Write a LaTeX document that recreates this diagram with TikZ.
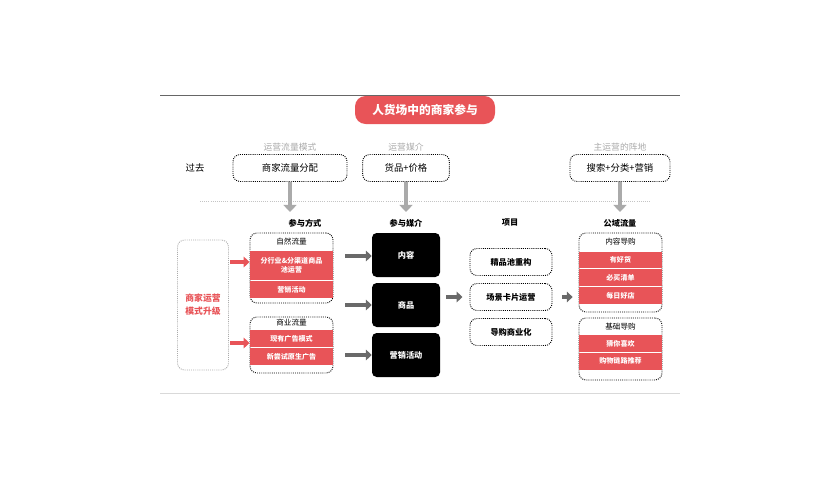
\documentclass[tikz,border=0pt]{standalone}
\usepackage{fontspec}
\setmainfont{Noto Sans CJK SC}
\usetikzlibrary{arrows.meta, positioning}
\definecolor{hotred}{RGB}{232,84,88}
\definecolor{softgray}{RGB}{170,170,170}
\definecolor{arrowgray}{RGB}{105,105,105}

\begin{document}
\begin{tikzpicture}[x=0.03cm, y=-0.03cm,
        dotbox/.style={rectangle, draw, densely dotted, thick, rounded corners=6pt, align=center, font=\fontsize{8}{9}\selectfont},
        group/.style={rectangle, draw, densely dotted, thick, rounded corners=6pt, inner sep=0pt},
        bar/.style={rectangle, fill=hotred, text=white, align=center, inner sep=0pt, minimum width=2.49cm, font=\fontsize{6}{7.5}\selectfont\bfseries},
        media/.style={rectangle, fill=black, text=white, rounded corners=4pt, minimum width=2.04cm, minimum height=1.32cm, font=\fontsize{7}{8}\selectfont\bfseries},
        head/.style={font=\fontsize{7}{8}\selectfont\bfseries},
        sub/.style={font=\fontsize{6.5}{8}\selectfont},
        faint/.style={text=softgray, font=\fontsize{7.5}{9}\selectfont},
        down/.style={-{Triangle[width=11pt,length=6pt]}, line width=4pt, softgray},
        fwd/.style={-{Triangle[width=9pt,length=5pt]}, line width=3.5pt, arrowgray},
        redfwd/.style={-{Triangle[width=9pt,length=5pt]}, line width=3.5pt, hotred}
        ]
        \useasboundingbox (0,0) rectangle (833,500);

        % Frame and title
        \draw[gray!80!black, thick] (160,95) -- (680,95);
        \draw[gray!30, thick] (160,393) -- (680,393);
        \node (title) [fill=hotred, text=white, rounded corners=9pt, minimum width=4.2cm, minimum height=0.84cm, font=\fontsize{10}{12}\selectfont\bfseries] at (425,110) {人货场中的商家参与};

        % Past row
        \node (past) [font=\fontsize{8}{9}\selectfont] at (195,168) {过去};
        \node (flow) [dotbox, minimum width=3.42cm, minimum height=0.81cm] at (290,168) {商家流量分配};
        \node (goods) [dotbox, minimum width=2.6cm, minimum height=0.81cm] at (406,168) {货品+价格};
        \node (search) [dotbox, minimum width=3cm, minimum height=0.81cm] at (620,168) {搜索+分类+营销};
        \node [faint] at (290,147) {运营流量模式};
        \node [faint] at (406,147) {运营媒介};
        \node [faint] at (620,147) {主运营的阵地};
        \draw[softgray!70, densely dotted, thick] (200,201) -- (650,201);
        \coordinate (d1) at (290,212);
        \coordinate (d2) at (406,212);
        \coordinate (d3) at (620,212);
        \draw [down] (flow) -- (d1);
        \draw [down] (goods) -- (d2);
        \draw [down] (search) -- (d3);

        % Headers
        \node [head] at (305,223) {参与方式};
        \node [head] at (406,223) {参与媒介};
        \node [head] at (510,223) {项目};
        \node [head] at (620,223) {公域流量};

        % Upgrade
        \node (upgrade) [group, draw=softgray, minimum width=1.53cm, minimum height=3.9cm, text=hotred, align=center, font=\fontsize{7.5}{11}\selectfont\bfseries] at (203,305) {商家运营\\模式升级};

        % Participation
        \node (natural) [group, minimum width=2.49cm, minimum height=2.1cm] at (291.5,268) {};
        \node [sub] at (291.5,242) {自然流量};
        \node (nat1) [bar, minimum height=0.87cm] at (291.5,265.5) {分行业\&分渠道商品\\池运营};
        \node (nat2) [bar, minimum height=0.51cm, below=0.02cm of nat1] {营销活动};
        \node (paid) [group, minimum width=2.49cm, minimum height=1.68cm] at (291.5,345) {};
        \node [sub] at (291.5,323) {商业流量};
        \node (paid1) [bar, minimum height=0.51cm] at (291.5,338.5) {现有广告模式};
        \node (paid2) [bar, minimum height=0.51cm, below=0.02cm of paid1] {新尝试原生广告};
        \coordinate (r1) at (230,262);
        \coordinate (r2) at (230,343);
        \draw [redfwd] (r1) -- (natural.west |- r1);
        \draw [redfwd] (r2) -- (paid.west |- r2);

        % Media
        \node (content) [media] at (406,255) {内容};
        \node (product) [media] at (406,305) {商品};
        \node (promo) [media] at (406,355) {营销活动};
        \coordinate (a1) at (345,256);
        \coordinate (a2) at (345,305);
        \coordinate (a3) at (345,355);
        \draw [fwd] (a1) -- (content.west |- a1);
        \draw [fwd] (a2) -- (product.west |- a2);
        \draw [fwd] (a3) -- (promo.west |- a3);

        % Projects
        \node (pool) [dotbox, minimum width=2.46cm, minimum height=0.81cm, font=\fontsize{7}{8}\selectfont\bfseries] at (511,262) {精品池重构};
        \node (scene) [dotbox, minimum width=2.46cm, minimum height=0.81cm, font=\fontsize{7}{8}\selectfont\bfseries] at (511,297) {场景卡片运营};
        \node (guide) [dotbox, minimum width=2.46cm, minimum height=0.81cm, font=\fontsize{7}{8}\selectfont\bfseries] at (511,332) {导购商业化};
        \draw [fwd] (product.east |- scene) ++(6,0) -- ([xshift=-6]scene.west);

        % Public traffic
        \node (contentguide) [group, minimum width=2.49cm, minimum height=2.37cm] at (620.5,272.5) {};
        \node [sub] at (620.5,242) {内容导购};
        \node (c1) [bar, minimum height=0.5cm] at (620.5,260) {有好货};
        \node (c2) [bar, minimum height=0.5cm, below=0.02cm of c1] {必买清单};
        \node (c3) [bar, minimum height=0.5cm, below=0.02cm of c2] {每日好店};
        \node (baseguide) [group, minimum width=2.49cm, minimum height=1.86cm] at (620.5,349) {};
        \node [sub] at (620.5,327) {基础导购};
        \node (b1) [bar, minimum height=0.5cm] at (620.5,343.5) {猜你喜欢};
        \node (b2) [bar, minimum height=0.5cm, below=0.02cm of b1] {购物链路推荐};
        \draw [fwd] ([xshift=8]scene.east) -- ([xshift=-5]contentguide.west |- scene);

    \end{tikzpicture}
\end{document}
